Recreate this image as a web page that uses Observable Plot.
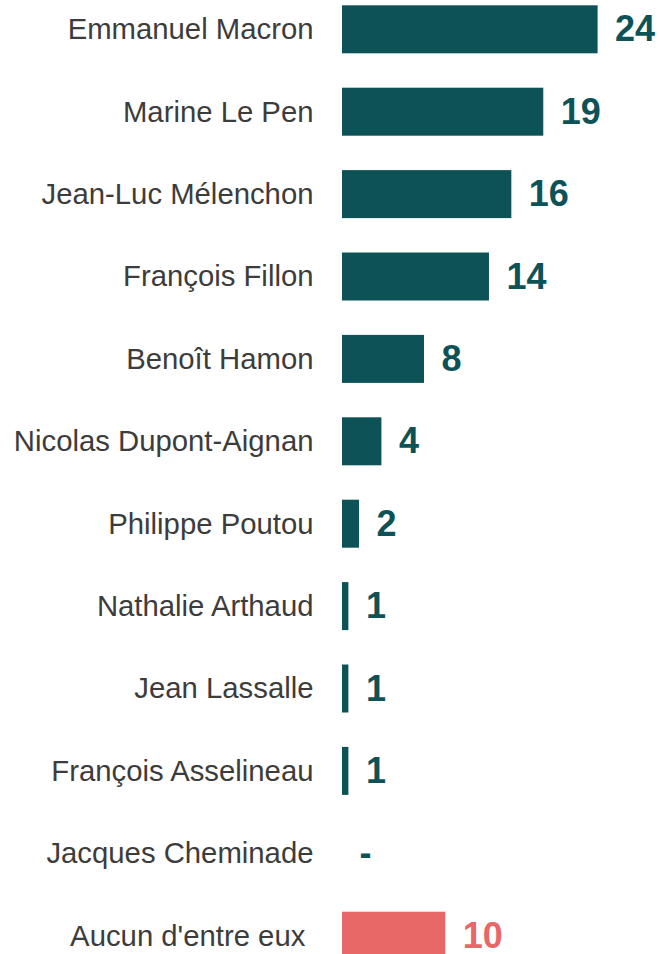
<!DOCTYPE html>
<html>
<head>
<meta charset="utf-8">
<script src="https://cdn.jsdelivr.net/npm/d3@7"></script>
<script src="https://cdn.jsdelivr.net/npm/@observablehq/plot@0.6"></script>
<style>
  html, body { margin: 0; padding: 0; background: #fff; }
  #chart svg { display: block; font-family: "Liberation Sans", Arial, sans-serif; overflow: visible; }
</style>
</head>
<body>
<div id="chart"></div>
<script>
const candidates = [
  "Emmanuel Macron", "Marine Le Pen", "Jean-Luc Mélenchon", "François Fillon",
  "Benoît Hamon", "Nicolas Dupont-Aignan", "Philippe Poutou", "Nathalie Arthaud",
  "Jean Lassalle", "François Asselineau", "Jacques Cheminade", "Aucun d'entre eux\u00a0"
];
const values = [24, 18.9, 15.9, 13.8, 7.7, 3.7, 1.6, 0.6, 0.6, 0.6, 0, 9.7];
const valueLabels = ["24", "19", "16", "14", "8", "4", "2", "1", "1", "1", "-", "10"];
const groups = ["cand", "cand", "cand", "cand", "cand", "cand", "cand", "cand", "cand", "cand", "cand", "none"];

const data = candidates.map((name, i) => ({
  name, value: values[i], label: valueLabels[i], group: groups[i]
}));

const colorDomain = ["cand", "none"];
const colorRange = ["#0d5257", "#e86767"];

const chart = Plot.plot({
  width: 660,
  height: 954,
  marginLeft: 342,
  marginRight: 0,
  marginTop: 0,
  marginBottom: 0,
  style: { fontFamily: "Liberation Sans, Arial, sans-serif", background: "#fff" },
  x: { domain: [0, 29.86], axis: null },
  y: { domain: candidates, range: [5.3, 959.7], paddingInner: 0.4175, paddingOuter: 0, round: false, axis: null },
  color: { domain: colorDomain, range: colorRange },
  marks: [
    Plot.barX(data, { x: "value", y: "name", fill: "group" }),
    Plot.text(data, {
      x: 0, y: "name", text: "name", textAnchor: "end", dx: -29,
      fontSize: 29.3, fill: "#3c3c3c"
    }),
    Plot.text(data, {
      x: "value", y: "name", text: "label", textAnchor: "start", dx: 17, dy: 0,
      fontSize: 36, fontWeight: "bold", fill: "group"
    })
  ]
});
document.getElementById("chart").appendChild(chart);
</script>
</body>
</html>
